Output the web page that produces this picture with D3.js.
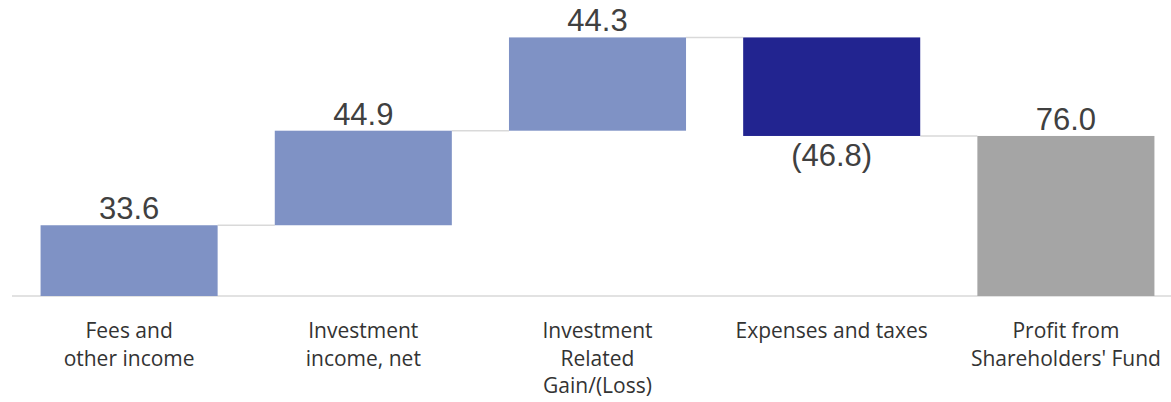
<!DOCTYPE html>
<html lang="en">
<head>
    <meta charset="UTF-8">
    <title>Waterfall</title>
    <script src="https://d3js.org/d3.v7.min.js"></script>
    <style>
        body { margin: 0; background: #fff; }
        .value { font-family: 'Liberation Sans', Arial, sans-serif; font-size: 31px; fill: #404040; }
        .cat { font-family: 'Open Sans', sans-serif; font-size: 21px; fill: #333; }
    </style>
</head>
<body>
<script>

    const width  = 1171;
    const height = 402;

    const categories = [
        ['Fees and', 'other income'],
        ['Investment', 'income, net'],
        ['Investment', 'Related', 'Gain/(Loss)'],
        ['Expenses and taxes'],
        ['Profit from', "Shareholders' Fund"]
    ];
    const values = [33.6, 44.9, 44.3, -46.8, 76.0];
    const isTotal = [false, false, false, false, true];

    // running totals for the waterfall
    let run = 0;
    const steps = values.map((v, i) => {
        let start, end;
        if (isTotal[i]) { start = 0; end = v; run = v; }
        else { start = run; end = run + v; run = end; }
        return {i: i, value: v, start: start, end: end, total: isTotal[i]};
    });

    const x = d3.scaleBand()
            .domain(d3.range(values.length))
            .range([12, 1183])
            .paddingInner(0.244)
            .paddingOuter(0.122);

    const y = d3.scaleLinear()
            .domain([0, 123])
            .range([296, 37]);

    const color = d => d.total ? '#a5a5a5' : (d.value < 0 ? '#222490' : '#7f92c5');
    const label = v => v < 0 ? '(' + Math.abs(v).toFixed(1) + ')' : v.toFixed(1);

    const svg = d3.select("body")
            .append("svg")
            .attr("width", width)
            .attr("height", height);

    // baseline
    svg.append("line")
            .attr("x1", 12).attr("x2", width)
            .attr("y1", y(0)).attr("y2", y(0))
            .attr("stroke", "#d9d9d9")
            .attr("stroke-width", 1.5);

    // connectors
    svg.selectAll("line.conn")
            .data(steps.slice(0, -1))
            .enter()
            .append("line")
            .attr("class", "conn")
            .attr("x1", d => x(d.i) + x.bandwidth())
            .attr("x2", d => x(d.i + 1))
            .attr("y1", d => y(d.end))
            .attr("y2", d => y(d.end))
            .attr("stroke", "#d9d9d9")
            .attr("stroke-width", 1.5);

    svg.selectAll("rect")
            .data(steps)
            .enter()
            .append("rect")
            .attr("x", d => x(d.i))
            .attr("width", x.bandwidth())
            .attr("y", d => y(Math.max(d.start, d.end)))
            .attr("height", d => Math.abs(y(d.start) - y(d.end)))
            .attr("fill", color);

    svg.selectAll("text.value")
            .data(steps)
            .enter()
            .append("text")
            .attr("class", "value")
            .attr("text-anchor", "middle")
            .attr("x", d => x(d.i) + x.bandwidth() / 2)
            .attr("y", d => d.value < 0 ? y(d.end) + 30 : y(d.end) - 6)
            .text(d => label(d.value));

    const cats = svg.selectAll("text.cat")
            .data(categories)
            .enter()
            .append("text")
            .attr("class", "cat")
            .attr("text-anchor", "middle")
            .attr("x", (d, i) => x(i) + x.bandwidth() / 2)
            .attr("y", 338);

    cats.selectAll("tspan")
            .data(d => d)
            .enter()
            .append("tspan")
            .attr("x", function() { return this.parentNode.getAttribute("x"); })
            .attr("dy", (d, i) => i === 0 ? 0 : 27.5)
            .text(d => d);

</script>
</body>
</html>
